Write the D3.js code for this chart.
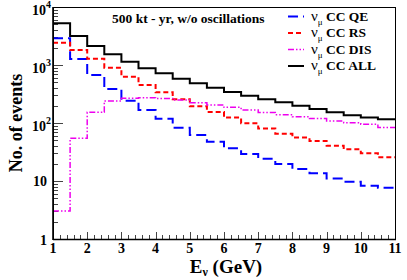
<!DOCTYPE html>
<html><head><meta charset="utf-8">
<script src="https://cdn.jsdelivr.net/npm/d3@7"></script>
<style>body{margin:0;background:#fff}svg{display:block}</style>
</head><body><svg id="c" width="407" height="280"></svg>
<script>
// bin edges: 1.0 to 11.0 GeV in 0.5 GeV steps
const binEdges = [1,1.5,2,2.5,3,3.5,4,4.5,5,5.5,6,6.5,7,7.5,8,8.5,9,9.5,10,10.5,11];
const qe  = [2890,1270,672,386,243,168,118,83,62,47.6,36.6,29.2,24.3,19.6,16.1,13.6,11,9.7,8.3,7.66];
const rs  = [2430,1815,1285,899,628,452,338,256,194,155,124,99,80,65,56,49,40.6,35.2,30,25.6];
const dis = [3.04,54.5,153,240,266,273,265,249,224,204,186,168,151,139,128,119,108,101,95,84];
const all = [5240,3160,2130,1530,1140,877,720,580,484,406,342,296,256,227,199,174,153,136,125,116];
const xTicks = [1,2,3,4,5,6,7,8,9,10,11];
const yTicks = [1,10,100,1000,10000];
const seriesNames = ["QE","RS","DIS","ALL"];
const titleText = "500 kt - yr, w/o oscillations";

const FONT = "'Liberation Serif', 'Times New Roman', Times, 'DejaVu Serif', serif";
const svg = d3.select("#c");
const L=53,R=395,T=7,B=239;
const x = d3.scaleLinear().domain([1,11]).range([L,R]);
const y = d3.scaleLog().domain([1,10000]).range([B,T]);

function txt(sel){ return sel.append("text").attr("font-family",FONT).attr("font-weight","bold"); }

// minor ticks
const g = svg.append("g");
const xMinor = d3.range(10,111,2).map(v=>v/10);
g.selectAll(".xm").data(xMinor).enter().append("line")
  .attr("x1",d=>Math.round(x(d))+0.5).attr("x2",d=>Math.round(x(d))+0.5).attr("y1",B).attr("y2",d=>Math.abs(d-Math.round(d))<1e-6?B-7:B-4)
  .attr("stroke","#444").attr("stroke-width",1);
const yMinor=[];
for(let e=0;e<4;e++) for(let k=1;k<=9;k++) yMinor.push(k*Math.pow(10,e));
yMinor.push(10000);
g.selectAll(".ym").data(yMinor).enter().append("line")
  .attr("y1",d=>Math.round(y(d))+0.5).attr("y2",d=>Math.round(y(d))+0.5).attr("x1",L)
  .attr("x2",d=>yTicks.includes(d)?L+10:L+5)
  .attr("stroke","#444").attr("stroke-width",1);

// histograms
function stepPath(vals){
  let p="";
  vals.forEach((v,i)=>{
    const x0=x(binEdges[i]), x1=x(binEdges[i+1]), yy=y(v);
    p += (i===0?"M":"L")+x0+","+yy+"L"+x1+","+yy;
  });
  return p;
}
const styles = [
  {data:qe, color:"#0000ff", w:2, dash:"10,5"},
  {data:rs, color:"#ff0000", w:2, dash:"5,3"},
  {data:dis, color:"#ee00ee", w:1.5, dash:"6,2,1.5,2,1.5,2"},
  {data:all, color:"#000000", w:2, dash:null}
];
svg.append("clipPath").attr("id","pc").append("rect").attr("x",L).attr("y",T).attr("width",R-L).attr("height",B-T);
styles.forEach(s=>{
  svg.append("path").attr("d",stepPath(s.data)).attr("fill","none")
    .attr("stroke",s.color).attr("stroke-width",s.w).attr("stroke-dasharray",s.dash)
    .attr("clip-path","url(#pc)");
});

// frame
svg.append("rect").attr("x",L+0.5).attr("y",T+0.5).attr("width",R-L).attr("height",B-T)
  .attr("fill","none").attr("stroke","#000").attr("stroke-width",1);
svg.append("line").attr("x1",L).attr("x2",L).attr("y1",T).attr("y2",B+1).attr("stroke","#000").attr("stroke-width",1.6);
svg.append("line").attr("x1",L).attr("x2",R+1).attr("y1",B+0.5).attr("y2",B+0.5).attr("stroke","#000").attr("stroke-width",1.4);

// x tick labels
xTicks.forEach(d=>{
  txt(svg).attr("x",x(d)).attr("y",253).attr("text-anchor","middle").attr("font-size",14).text(d);
});
// y tick labels
yTicks.forEach(v=>{
  const e=Math.round(Math.log10(v));
  const t=txt(svg).attr("font-size",14).attr("text-anchor","end");
  if(e===0){ t.attr("x",47).attr("y",y(v)+6).text("1"); }
  else if(e===1){ t.attr("x",47).attr("y",y(v)+5).text("10"); }
  else {
    t.attr("x",51).attr("y",y(v)+8);
    t.append("tspan").text("10");
    t.append("tspan").attr("font-size",10).attr("dy",-7).text(e);
  }
});

// axis titles
const xt = txt(svg).attr("x",226).attr("y",273).attr("text-anchor","middle").attr("font-size",19);
xt.append("tspan").text("E");
xt.append("tspan").attr("font-size",12).attr("dy",3).text("ν");
xt.append("tspan").attr("dy",-3).text(" (GeV)");
txt(svg).attr("transform","translate(22,123) rotate(-90)").attr("text-anchor","middle")
  .attr("font-size",18).text("No. of events");

// title
txt(svg).attr("x",112).attr("y",23).attr("font-size",13.5).text(titleText);

// legend
const legY=[16.5,33,49.5,66];
styles.forEach((s,i)=>{
  svg.append("line").attr("x1",288).attr("x2",304).attr("y1",legY[i]).attr("y2",legY[i])
    .attr("stroke",s.color).attr("stroke-width",s.w).attr("stroke-dasharray",s.dash);
  const t=txt(svg).attr("x",311).attr("y",legY[i]+4).attr("font-size",13.5);
  t.append("tspan").attr("font-weight","normal").attr("font-size",15).text("ν");
  t.append("tspan").attr("font-size",9).attr("font-weight","normal").attr("dy",4).text("μ");
  t.append("tspan").attr("dy",-4).text(" CC "+seriesNames[i]);
});
</script></body></html>
